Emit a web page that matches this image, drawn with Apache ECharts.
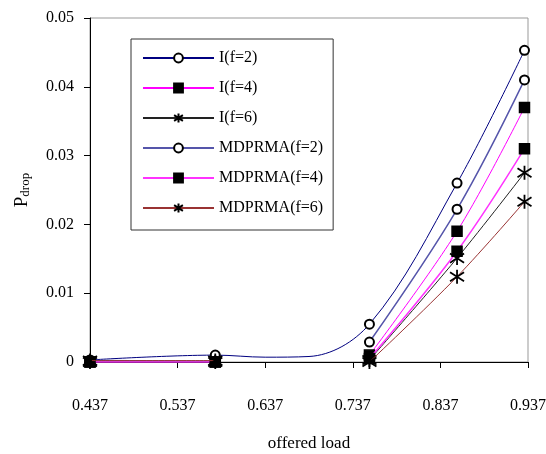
<!DOCTYPE html>
<html>
<head>
<meta charset="utf-8">
<script src="https://cdn.jsdelivr.net/npm/echarts@6/dist/echarts.min.js"></script>
<style>html,body{margin:0;padding:0;background:#fff}#c{width:546px;height:454px}</style>
</head>
<body>
<div id="c"></div>
<script>
// offered load sample points (the 0.637 / 0.687 points carry only the I(f=2) curve)
var xValues = [0.437, 0.58, 0.637, 0.687, 0.756, 0.856, 0.933];
// points that carry a marker
var markerX = [0.437, 0.58, 0.756, 0.856, 0.933];
var xTickLabels = ['0.437', '0.537', '0.637', '0.737', '0.837', '0.937'];
var yTickLabels = ['0', '0.01', '0.02', '0.03', '0.04', '0.05'];

var I_f2      = [0.0003, 0.0010, 0.0007, 0.0008, 0.0055, 0.0260, 0.0453];
var I_f4      = [0.0000, 0.0000, null,   null,   0.0010, 0.0190, 0.0370];
var I_f6      = [0.0000, 0.0000, null,   null,   0.0003, 0.0151, 0.0275];
var MD_f2     = [0.0002, 0.0001, null,   null,   0.0029, 0.0222, 0.0410];
var MD_f4     = [0.0000, 0.0000, null,   null,   0.0005, 0.0161, 0.0310];
var MD_f6     = [0.0002, 0.0002, null,   null,   0.0000, 0.0124, 0.0233];

var seriesNames = ['I(f=2)', 'I(f=4)', 'I(f=6)', 'MDPRMA(f=2)', 'MDPRMA(f=4)', 'MDPRMA(f=6)'];
var seriesValues = [I_f2, I_f4, I_f6, MD_f2, MD_f4, MD_f6];

var STAR = 'path://M0,-1L0,1M-0.95,-0.65L0.95,0.65M-0.95,0.65L0.95,-0.65';
var styles = [
  {line: '#000080', width: 1, symbol: 'emptyCircle', size: 9},
  {line: '#ff00ff', width: 1, symbol: 'rect', size: 10},
  {line: '#222222', width: 1, symbol: STAR, size: 14},
  {line: '#5555aa', width: 1.5, symbol: 'emptyCircle', size: 9},
  {line: '#ff33ff', width: 1.5, symbol: 'rect', size: 10},
  {line: '#993333', width: 1, symbol: STAR, size: 14}
];

function buildData(vals) {
  return xValues.map(function (x, i) {
    var v = vals[i];
    var item = {value: [x, v === null ? '-' : v]};
    if (markerX.indexOf(x) < 0) item.symbol = 'none';
    return item;
  });
}

var serif = 'Liberation Serif, Times New Roman, serif';

var series = seriesNames.map(function (name, k) {
  var st = styles[k];
  return {
    name: name,
    type: 'line',
    smooth: 0.35,
    connectNulls: false,
    data: buildData(seriesValues[k]),
    symbol: st.symbol,
    symbolSize: st.size,
    showAllSymbol: true,
    lineStyle: {color: st.line, width: st.width},
    itemStyle: {color: '#000', borderColor: '#000', borderWidth: st.symbol === STAR ? 1.8 : 1.5},
    emphasis: {disabled: true},
    z: 2 + k
  };
});

var chart = echarts.init(document.getElementById('c'));
chart.setOption({
  animation: false,
  backgroundColor: '#fff',
  grid: {left: 90, right: 18, top: 18, bottom: 92, show: true, borderColor: '#999', borderWidth: 1,
         outerBoundsMode: 'none', containLabel: false},
  legend: {
    orient: 'vertical',
    left: 131, top: 39,
    padding: [11, 10, 14, 11],
    itemWidth: 71, itemHeight: 11, itemGap: 14,
    borderColor: '#333', borderWidth: 1,
    backgroundColor: '#fff',
    data: seriesNames,
    textStyle: {fontFamily: serif, fontSize: 16, color: '#000'},
    selectedMode: false
  },
  xAxis: {
    type: 'value', min: 0.437, max: 0.937, interval: 0.1,
    name: 'offered load', nameLocation: 'middle', nameGap: 73,
    nameTextStyle: {fontFamily: serif, fontSize: 17, color: '#000'},
    axisLine: {onZero: false, lineStyle: {color: '#000', width: 1}},
    axisTick: {length: 6, lineStyle: {color: '#000'}},
    splitLine: {show: false},
    axisLabel: {
      margin: 36, fontFamily: serif, fontSize: 16, color: '#000',
      formatter: function (v) { return xTickLabels[Math.round((v - 0.437) / 0.1)]; }
    }
  },
  yAxis: {
    type: 'value', min: 0, max: 0.05, interval: 0.01,
    name: '{p|P}{s|drop}', nameLocation: 'middle', nameGap: 58, nameRotate: 90,
    nameTextStyle: {
      color: '#000',
      rich: {
        p: {fontFamily: serif, fontSize: 19, color: '#000', lineHeight: 22, verticalAlign: 'bottom'},
        s: {fontFamily: serif, fontSize: 13, color: '#000', lineHeight: 6, verticalAlign: 'bottom'}
      }
    },
    axisLine: {show: true, lineStyle: {color: '#000', width: 1}},
    axisTick: {show: true, length: 6, lineStyle: {color: '#000'}},
    splitLine: {show: false},
    axisLabel: {
      margin: 16, fontFamily: serif, fontSize: 16, color: '#000',
      formatter: function (v) { return yTickLabels[Math.round(v / 0.01)]; }
    }
  },
  series: series
});
</script>
</body>
</html>
